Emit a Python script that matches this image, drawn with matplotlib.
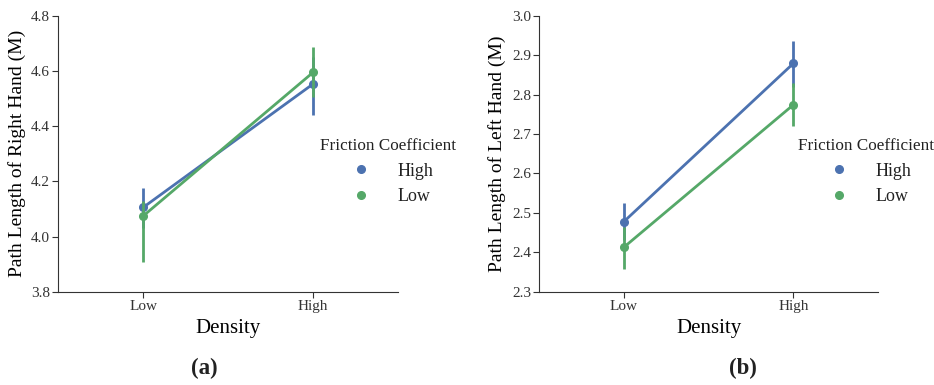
import matplotlib
matplotlib.use("Agg")
import matplotlib.pyplot as plt
from matplotlib.lines import Line2D
import numpy as np

# ---- data ----------------------------------------------------------
density = ["Low", "High"]
friction = ["High", "Low"]

right_mean = {"High": [4.106, 4.553], "Low": [4.075, 4.595]}
right_lo = {"High": [4.030, 4.440], "Low": [3.909, 4.507]}
right_hi = {"High": [4.177, 4.650], "Low": [4.130, 4.686]}

left_mean = {"High": [2.478, 2.879], "Low": [2.413, 2.774]}
left_lo = {"High": [2.430, 2.820], "Low": [2.357, 2.720]}
left_hi = {"High": [2.524, 2.936], "Low": [2.464, 2.830]}

right_ticks = [3.8, 4.0, 4.2, 4.4, 4.6, 4.8]
left_ticks = [2.3, 2.4, 2.5, 2.6, 2.7, 2.8, 2.9, 3.0]

colors = {"High": "#4C72B0", "Low": "#55A868"}

plt.rcParams["font.family"] = ["Liberation Serif", "DejaVu Serif"]
plt.rcParams["axes.edgecolor"] = "#333333"
plt.rcParams["xtick.color"] = "#333333"
plt.rcParams["ytick.color"] = "#333333"
plt.rcParams["text.color"] = "#222222"


def panel(ax, mean, lo, hi, ticks, ylabel, leg_xy):
    x = np.arange(len(density))
    for f in friction:
        c = colors[f]
        ax.vlines(x, lo[f], hi[f], color=c, lw=2)
        ax.plot(x, mean[f], color=c, lw=2, marker="o", ms=5.5)
    ax.set_xlim(-0.5, 1.5)
    ax.set_ylim(ticks[0], ticks[-1])
    ax.set_yticks(ticks)
    ax.set_yticklabels([f"{t:.1f}" for t in ticks], fontsize=11)
    ax.set_xticks(x)
    ax.set_xticklabels(density, fontsize=11)
    ax.set_xlabel("Density", fontsize=15, labelpad=4)
    ax.set_ylabel(ylabel, fontsize=14, labelpad=4)
    ax.spines["top"].set_visible(False)
    ax.spines["right"].set_visible(False)
    ax.tick_params(length=4, width=0.8, pad=2)
    handles = [Line2D([], [], color=colors[f], marker="o", ls="", ms=5.5)
               for f in friction]
    ax.legend(handles, friction, title="Friction Coefficient", frameon=False,
              loc="upper left", bbox_to_anchor=leg_xy,
              bbox_transform=ax.figure.transFigure, fontsize=13,
              title_fontsize=12.3, handletextpad=1.0, labelspacing=0.47)


fig = plt.figure(figsize=(9.34, 3.85), dpi=100)
ax_a = fig.add_axes([0.0626, 0.2423, 0.3635, 0.7167])
ax_b = fig.add_axes([0.5774, 0.2423, 0.3626, 0.7167])

panel(ax_a, right_mean, right_lo, right_hi, right_ticks,
      "Path Length of Right Hand (M)", (0.3255, 0.683))
panel(ax_b, left_mean, left_lo, left_hi, left_ticks,
      "Path Length of Left Hand (M)", (0.837, 0.683))

fig.text(0.219, 0.042, "(a)", ha="center", va="center", fontsize=16.5,
         fontweight="bold")
fig.text(0.795, 0.042, "(b)", ha="center", va="center", fontsize=16.5,
         fontweight="bold")

fig.savefig("out.png", dpi=100)
